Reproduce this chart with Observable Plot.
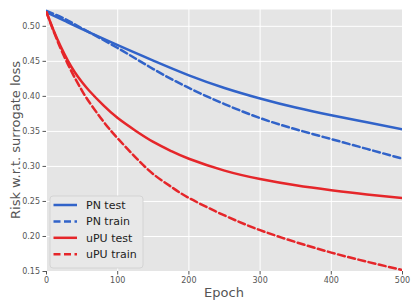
<!DOCTYPE html>
<html>
<head>
<meta charset="utf-8">
<script src="https://cdn.jsdelivr.net/npm/d3@7"></script>
<script src="https://cdn.jsdelivr.net/npm/@observablehq/plot@0.6"></script>
<style>
  html, body { margin: 0; padding: 0; background: #fff; }
  #chart svg { display: block; }
</style>
</head>
<body>
<div id="chart"></div>
<script>
// Epoch samples and series values
const pnTestEpochs  = [0, 25, 50, 100, 150, 200, 250, 300, 350, 400, 450, 500];
const pnTest        = [0.520, 0.508, 0.496, 0.473, 0.451, 0.430, 0.412, 0.397, 0.384, 0.373, 0.363, 0.353];
const pnTrainEpochs = [0, 25, 50, 100, 150, 200, 250, 300, 350, 400, 450, 500];
const pnTrain       = [0.522, 0.511, 0.497, 0.469, 0.439, 0.412, 0.389, 0.369, 0.353, 0.339, 0.325, 0.311];
const upuTestEpochs = [0, 10, 20, 30, 40, 50, 60, 80, 100, 125, 150, 175, 200, 250, 300, 350, 400, 450, 500];
const upuTest       = [0.520, 0.494, 0.471, 0.451, 0.434, 0.420, 0.408, 0.387, 0.369, 0.351, 0.335, 0.322, 0.311, 0.294, 0.282, 0.273, 0.266, 0.260, 0.255];
const upuTrainEpochs= [0, 10, 20, 30, 40, 50, 60, 80, 100, 125, 150, 175, 200, 250, 300, 350, 400, 450, 500];
const upuTrain      = [0.520, 0.493, 0.468, 0.446, 0.426, 0.408, 0.392, 0.364, 0.340, 0.313, 0.289, 0.271, 0.255, 0.230, 0.209, 0.192, 0.177, 0.164, 0.152];

const seriesNames = ["PN test", "PN train", "uPU test", "uPU train"];
const seriesColors = ["#3163c9", "#3163c9", "#e5262a", "#e5262a"];
const seriesDash = [null, "7,3.5", null, "7,3.5"];
const xTicks = [0, 100, 200, 300, 400, 500];
const yTicks = [0.15, 0.20, 0.25, 0.30, 0.35, 0.40, 0.45, 0.50];

const toRows = (ep, vals, name) => ep.map((e, i) => ({epoch: e, value: vals[i], series: name}));
const allSeries = [
  toRows(pnTestEpochs, pnTest, seriesNames[0]),
  toRows(pnTrainEpochs, pnTrain, seriesNames[1]),
  toRows(upuTestEpochs, upuTest, seriesNames[2]),
  toRows(upuTrainEpochs, upuTrain, seriesNames[3])
];

const font = "'DejaVu Sans', sans-serif";

const chart = Plot.plot({
  width: 416,
  height: 306,
  marginLeft: 46,
  marginRight: 14,
  marginTop: 9,
  marginBottom: 35,
  style: {fontFamily: font, background: "#fff"},
  x: {domain: [0, 500]},
  y: {domain: [0.15, 0.524]},
  marks: [
    Plot.frame({fill: "#e5e5e5", stroke: null}),
    Plot.gridX(xTicks, {stroke: "#fff", strokeOpacity: 1, strokeWidth: 1}),
    Plot.gridY(yTicks, {stroke: "#fff", strokeOpacity: 1, strokeWidth: 1}),
    Plot.axisX(xTicks, {label: null, tickSize: 3.5, stroke: "#555", tickPadding: 2.5, fontSize: 8, fill: "#555", tickFormat: d => d3.format("d")(d)}),
    Plot.axisY(yTicks, {label: null, tickSize: 3.5, stroke: "#555", tickPadding: 3, fontSize: 8, fill: "#555", tickFormat: d => d3.format(".2f")(d)}),
    ...allSeries.map((rows, i) => Plot.line(rows, {
      x: "epoch", y: "value", stroke: seriesColors[i], strokeWidth: 2.5,
      strokeDasharray: seriesDash[i], curve: "natural", clip: true
    }))
  ]
});

document.getElementById("chart").appendChild(chart);

// Axis titles and legend
const svg = d3.select(chart);
svg.append("text")
  .attr("x", 224).attr("y", 296.5)
  .attr("text-anchor", "middle")
  .attr("font-family", font).attr("font-size", 13).attr("fill", "#555")
  .text("Epoch");
svg.append("text")
  .attr("transform", "translate(19.5,140) rotate(-90)")
  .attr("text-anchor", "middle")
  .attr("font-family", font).attr("font-size", 13).attr("fill", "#555")
  .text("Risk w.r.t. surrogate loss");

const lg = svg.append("g");
lg.append("rect")
  .attr("x", 50).attr("y", 196).attr("width", 93).attr("height", 72)
  .attr("rx", 3).attr("fill", "#e8e8e8").attr("stroke", "#cfcfcf").attr("stroke-width", 0.8);
seriesNames.forEach((name, i) => {
  const y = 205 + i * 16.4;
  lg.append("line")
    .attr("x1", 53.5).attr("x2", 77).attr("y1", y).attr("y2", y)
    .attr("stroke", seriesColors[i]).attr("stroke-width", 2.5)
    .attr("stroke-dasharray", seriesDash[i] ? "7,3.5" : null);
  lg.append("text")
    .attr("x", 86).attr("y", y).attr("dy", "0.35em")
    .attr("text-anchor", "start")
    .attr("font-family", font).attr("font-size", 11).attr("fill", "#222")
    .text(name);
});
</script>
</body>
</html>
